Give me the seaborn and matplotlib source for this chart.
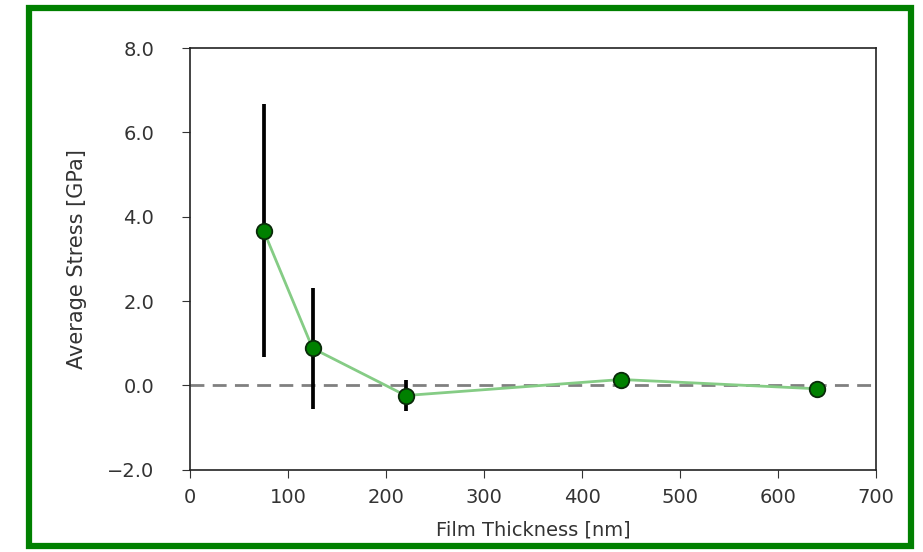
import numpy as np
import pandas as pd
import seaborn as sns
import matplotlib
matplotlib.use("Agg")
import matplotlib.pyplot as plt
from matplotlib.patches import Rectangle
from matplotlib.ticker import FuncFormatter

# thickness [nm], stress [GPa], error [GPa]
thickness = [75, 125, 220, 440, 640]
stress = [3.67, 0.88, -0.24, 0.14, -0.08]
stress_err = [3.0, 1.44, 0.37, 0.15, 0.05]

df = pd.DataFrame({'thickness': thickness, 'stress': stress, 'err': stress_err})

sns.set_style('ticks')
plt.rcParams['font.family'] = ['DejaVu Sans']
plt.rcParams['font.size'] = 14

fig = plt.figure(figsize=(9.23, 5.52), dpi=100)
ax = fig.add_axes([0.206, 0.149, 0.743, 0.764])

# zero reference line
ax.axhline(0, color='gray', linestyle='--', linewidth=2, dashes=(5, 3), zorder=1)

# connecting line
sns.lineplot(data=df, x='thickness', y='stress', ax=ax, color='#85cc85',
             linewidth=2, zorder=2)

# error bars
ax.errorbar(df['thickness'], df['stress'], yerr=df['err'], fmt='none',
            ecolor='black', elinewidth=2.7, capsize=0, zorder=3)

# markers
sns.scatterplot(data=df, x='thickness', y='stress', ax=ax, color='green',
                edgecolor='#0a2a0a', linewidth=1.3, s=125, zorder=4)

ax.set_xlim(0, 700)
ax.set_ylim(-2, 8)
ax.set_xticks(np.arange(0, 701, 100))
ax.set_yticks(np.arange(-2, 8.1, 2))
ax.yaxis.set_major_formatter(FuncFormatter(lambda v, p: f"{v:.1f}".replace('-', '\u2212')))
ax.tick_params(labelsize=14, colors='#333333', length=6)
ax.tick_params(axis='y', pad=20)
ax.tick_params(axis='x', pad=7)
for sp in ax.spines.values():
    sp.set_visible(True)
    sp.set_color('#222222')
    sp.set_linewidth(1.2)

ax.set_xlabel('Film Thickness [nm]', fontsize=14, color='#333333', labelpad=10)
ax.set_ylabel('Average Stress [GPa]', fontsize=15, color='#333333', labelpad=14)

# green frame around the figure
fig.patches.append(Rectangle((29 / 923, 1 - 546 / 552), (911 - 29) / 923, (546 - 8) / 552,
                             transform=fig.transFigure, fill=False,
                             edgecolor='green', linewidth=4.5, zorder=10))

fig.savefig('out.png', dpi=100)
